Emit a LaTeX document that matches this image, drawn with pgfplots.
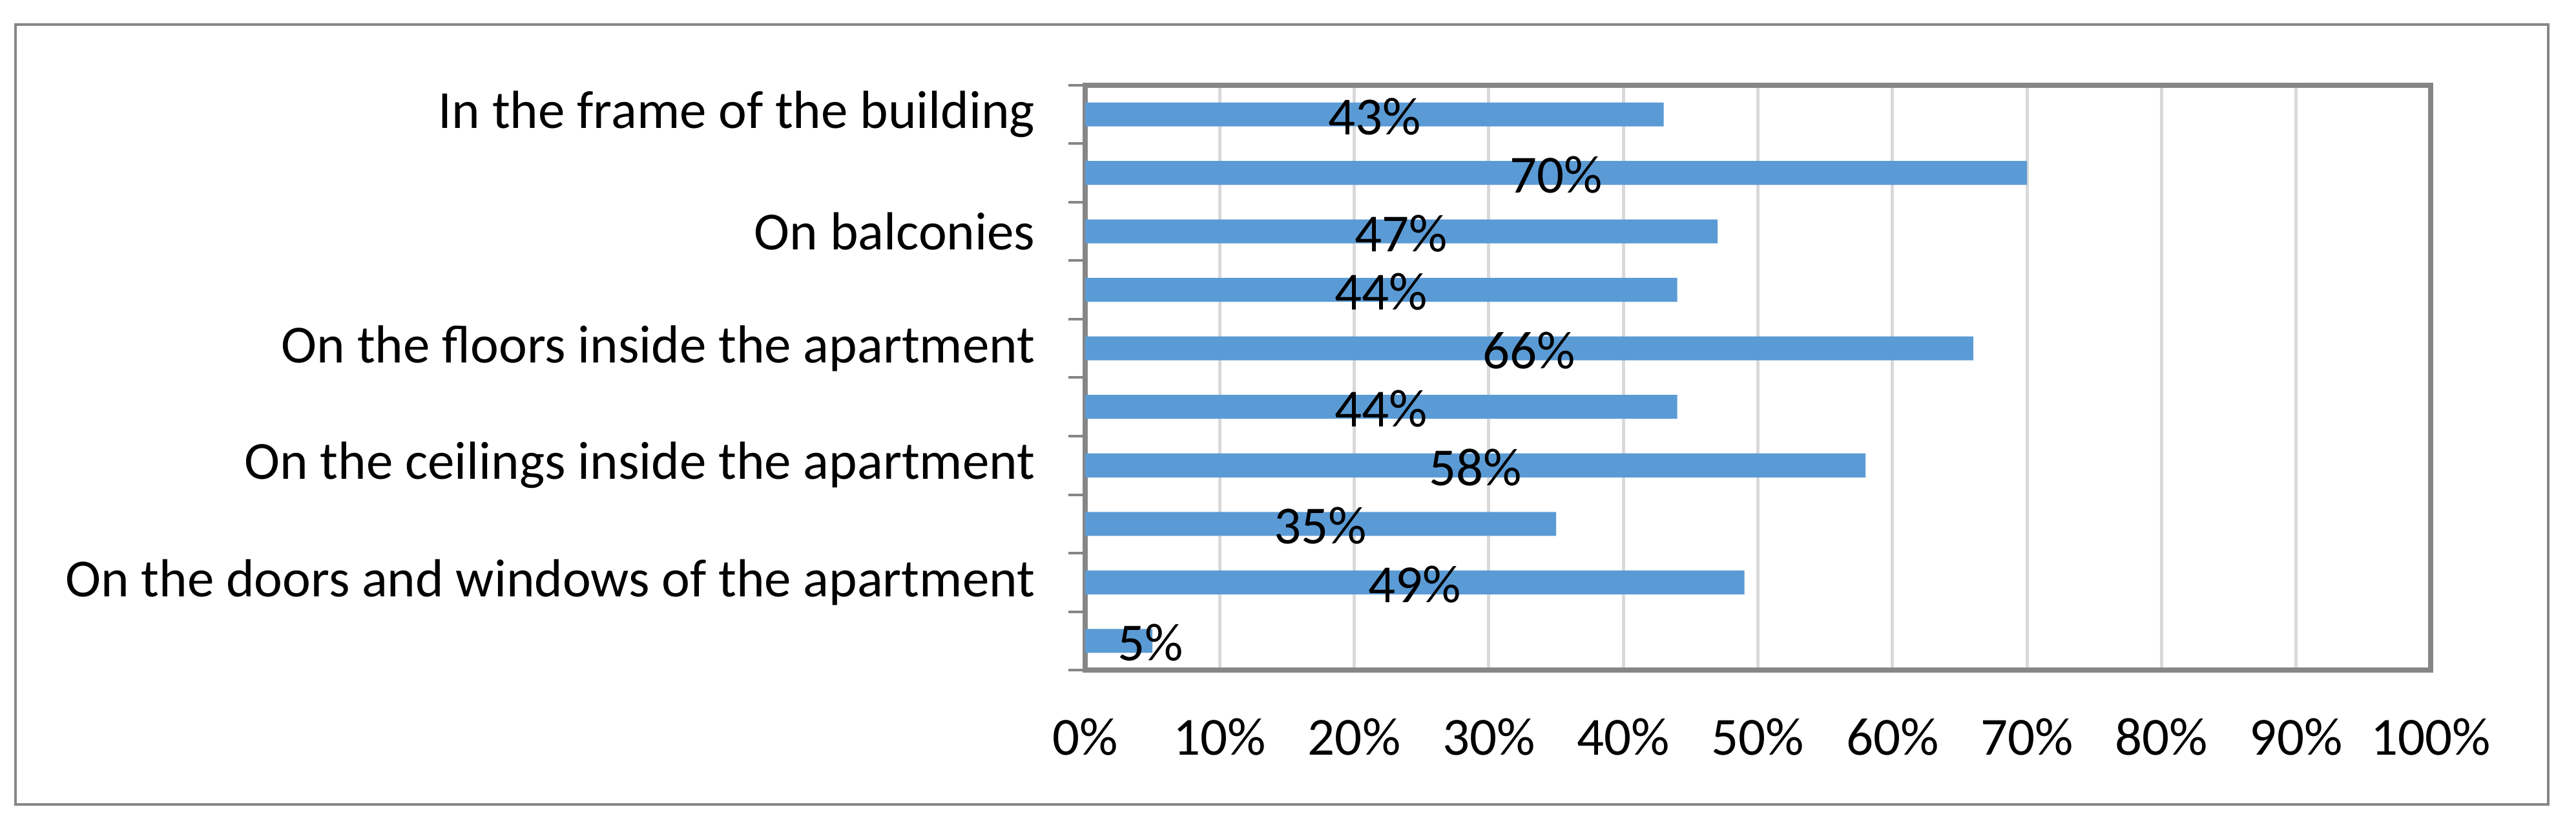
\documentclass[border=0pt]{standalone}
\usepackage{pgfplots}
\pgfplotsset{compat=1.18}
\usepackage{pgfplotstable}
\usepackage{fontspec}
\setmainfont{Carlito}
\definecolor{barblue}{HTML}{5B9BD5}
\definecolor{axisgray}{HTML}{868686}
\definecolor{gridgray}{HTML}{D9D9D9}
\pgfplotstableread{
pos val
1 43
2 70
3 47
4 44
5 66
6 44
7 58
8 35
9 49
10 5
}\datatable
\begin{document}
\begin{tikzpicture}
\useasboundingbox (0,0) rectangle (797.6pt,256.6pt);
\draw[axisgray, line width=0.8pt] (4.8pt,7.6pt) rectangle (789pt,249pt);
\begin{axis}[
  at={(336pt,49.2pt)}, anchor=south west,
  width=416.6pt, height=181pt, scale only axis,
  xmin=0, xmax=100, ymin=0.5, ymax=10.5, y dir=reverse,
  clip=false,
  /pgf/number format/assume math mode=true,
  xtick={0,10,...,100},
  xticklabels={0\%,10\%,20\%,30\%,40\%,50\%,60\%,70\%,80\%,90\%,100\%},
  ytick={1,...,10},
  yticklabels={In the frame of the building,,On balconies,,On the floors inside the apartment,,On the ceilings inside the apartment,,On the doors and windows of the apartment,},
  minor ytick={0.5,1.5,...,10.5},
  major tick length=0pt, minor tick length=5.2pt, tick align=outside,
  ytick pos=left, xtick pos=bottom,
  minor tick style={axisgray, line width=0.8pt},
  xmajorgrids,
  major grid style={gridgray, line width=1pt},
  axis line style={axisgray, line width=1.5pt},
  tick label style={font=\fontsize{16.6}{20}\selectfont, black},
  xticklabel style={yshift=-11.5pt},
  yticklabel style={xshift=-12pt},
  bar width=7.4pt,
]
\addplot[xbar, fill=barblue, draw=none] table[x=val, y=pos] {\datatable};
\addplot[only marks, mark=none, point meta=explicit,
  nodes near coords={\pgfmathprintnumber[assume math mode=true]{\pgfplotspointmeta}\%},
  nodes near coords style={anchor=center, black, font=\fontsize{16.6}{20}\selectfont, yshift=-0.6pt}]
  table[x expr={max(\thisrow{val}/2,4.85)}, y=pos, meta=val] {\datatable};
\end{axis}
\end{tikzpicture}
\end{document}
